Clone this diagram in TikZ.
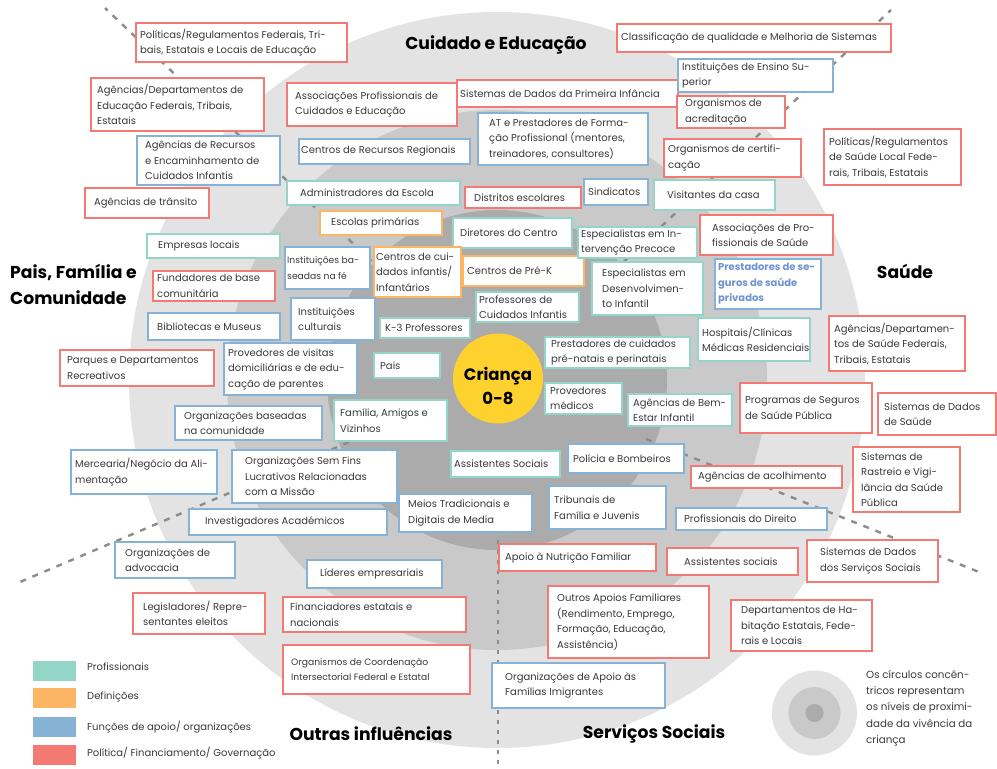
\documentclass[tikz,border=0pt]{standalone}
\usepackage{fontspec}
\setmainfont{Poppins}
\usetikzlibrary{calc}

\definecolor{cTeal}{HTML}{93D5C6}
\definecolor{cOrange}{HTML}{FBB564}
\definecolor{cBlue}{HTML}{86B2D5}
\definecolor{cRed}{HTML}{F27A72}
\definecolor{ringA}{HTML}{E3E3E3}
\definecolor{ringB}{HTML}{C9C9C9}
\definecolor{ringC}{HTML}{ABABAB}
\definecolor{kidYellow}{HTML}{FDD22E}
\definecolor{ink}{HTML}{3A3A3A}
\definecolor{dashgray}{HTML}{8C8C8C}
\definecolor{blueInk}{HTML}{6E93D2}

% box: name, style, x1, y1, x2, y2, text; optional first argument = left padding
\newcommand\bx[8][7]{%
  \node[#3, minimum width={#6-#4}, minimum height={#7-#5}] (#2) at ({(#4+#6)/2},{(#5+#7)/2}) {};
  \node[txt, anchor=west] (#2-t) at ([xshift=#1]#2.west) {#8};
}

\begin{document}
\begin{tikzpicture}[x=1pt, y=-1pt,
  box/.style={draw, fill=white, line width=1.6pt, inner sep=0pt, outer sep=0pt},
  pro/.style={box, draw=cTeal},
  def/.style={box, draw=cOrange},
  sup/.style={box, draw=cBlue},
  pol/.style={box, draw=cRed},
  txt/.style={font=\fontsize{10}{15.5}\selectfont, text=ink, align=left, inner sep=0pt},
  smalltxt/.style={txt, font=\fontsize{9.2}{15.5}\selectfont},
  title/.style={font=\fontsize{17.2}{20}\selectfont\bfseries, text=black, align=left, inner sep=0pt},
  sector/.style={dashgray, line width=2.4pt, dash pattern=on 6pt off 7pt},
  swatch/.style={minimum width=43pt, minimum height=20pt, inner sep=0pt},
]
\useasboundingbox (0,0) rectangle (997,769);
\clip (0,0) rectangle (997,769);

% concentric rings of proximity
\coordinate (ctr) at (497,380);
\fill[ringA] (ctr) circle[radius=368];
\fill[ringB] (ctr) circle[radius=270];
\fill[ringC] (ctr) circle[radius=170];

% sector dividers
\coordinate (tlA) at (381,270); \coordinate (tlB) at (105,8);
\coordinate (trA) at (614,271); \coordinate (trB) at (891,10);
\coordinate (brA) at (646,439); \coordinate (brB) at (984,574);
\coordinate (blA) at (349,442); \coordinate (blB) at (20,582);
\coordinate (bmA) at (498,540); \coordinate (bmB) at (498,769);
\draw[sector] (tlA) -- (tlB);
\draw[sector] (trA) -- (trB);
\draw[sector] (brA) -- (brB);
\draw[sector] (blA) -- (blB);
\draw[sector, line width=1.8pt, dash pattern=on 4pt off 6pt] (bmA) -- (bmB);

% child at the centre
\node[circle, fill=kidYellow, minimum size=90pt, inner sep=0pt] (kid) at (498,378.5) {};
\node[title, align=center, font=\fontsize{16.5}{24}\selectfont\bfseries] (kid-t) at (498,386) {Criança\\0-8};

% ---- Cuidado e Educação / Pais, Família e Comunidade (left and top)
\bx[4]{b1}{pol}{136}{23}{347}{62}{Políticas/Regulamentos Federais, Tri-\\bais, Estatais e Locais de Educação}
\bx[6]{b2}{pol}{91}{78}{264}{131}{Agências/Departamentos de\\Educação Federais, Tribais,\\Estatais}
\bx[8]{b3}{sup}{137}{136}{280}{185}{Agências de Recursos\\e Encaminhamento de\\Cuidados Infantis}
\bx[9]{b4}{pol}{85}{188}{209}{218}{Agências de trânsito}
\bx[11]{b5}{pro}{147}{234}{280}{258}{Empresas locais}
\bx[4]{b6}{pol}{153}{271}{275}{301}{Fundadores de base\\comunitária}
\bx[9]{b7}{sup}{148}{313}{280}{340}{Bibliotecas e Museus}
\bx[7]{b8}{pol}{60}{350}{214}{386}{Parques e Departamentos\\Recreativos}
\bx[9]{b9}{sup}{175}{406}{322}{440}{Organizações baseadas\\na comunidade}
\bx[4]{b10}{sup}{71}{450}{217}{494}{Mercearia/Negócio da Ali-\\mentação}
\bx[13]{b11}{sup}{232}{450}{397}{503}{Organizações Sem Fins\\Lucrativos Relacionadas\\com a Missão}
\bx[16]{b12}{sup}{189}{509}{387}{535}{Investigadores Académicos}
\bx[10]{b13}{sup}{115}{542}{235}{578}{Organizações de\\advocacia}
\bx[10]{b14}{pol}{133}{593}{265}{634}{Legisladores/ Repre-\\sentantes eleitos}
\bx[13]{b15}{sup}{307}{560}{442}{588}{Líderes empresariais}
\bx[7]{b16}{pol}{283}{597}{466}{632}{Financiadores estatais e\\nacionais}
\node[pol, minimum width=187, minimum height=49] (b17) at (376.5,669.5) {};
\node[smalltxt, anchor=west] (b17-t) at ([xshift=8]b17.west) {Organismos de Coordenação\\Intersectorial Federal e Estatal};

\bx[8]{b28}{pol}{287}{83}{457}{126}{Associações Profissionais de\\Cuidados e Educação}
\bx[3]{b30}{pol}{457}{80}{678}{107}{Sistemas de Dados da Primeira Infância}
\bx[2]{b27}{sup}{299}{139}{470}{164}{Centros de Recursos Regionais}
\bx[11]{b31}{sup}{478}{113}{648}{165}{AT e Prestadores de Forma-\\ção Profissional (mentores,\\treinadores, consultores)}
\bx[13]{b18}{pro}{287}{181}{460}{205}{Administradores da Escola}
\bx[9]{b32}{pol}{465}{187}{581}{208}{Distritos escolares}
\bx[4]{b33}{sup}{584}{179}{648}{205}{Sindicatos}
\bx[11]{b19}{def}{320}{211}{442}{235}{Escolas primárias}
\bx[7]{b34}{pro}{453}{218}{572}{248}{Diretores do Centro}
\node[sup, minimum width=85, minimum height=42] (b20) at (327.5,268) {};
\node[smalltxt, anchor=west] (b20-t) at ([xshift=2]b20.west) {Instituições ba-\\seadas na fé};
\bx[2]{b21}{def}{374}{247}{461}{297}{Centros de cui-\\dados infantis/\\Infantários}
\bx[4]{b35}{def}{463}{256}{584}{286}{Centros de Pré-K}
\bx[3]{b36}{pro}{476}{292}{579}{322}{Professores de\\Cuidados Infantis}
\bx[7]{b22}{sup}{291}{298}{375}{340}{Instituições\\culturais}
\bx[5]{b23}{pro}{380}{318}{470}{338}{K-3 Professores}
\bx[4]{b24}{sup}{224}{343}{357}{395}{Provedores de visitas\\domiciliárias e de edu-\\cação de parentes}
\bx[6]{b25}{pro}{374}{353}{440}{378}{Pais}
\bx[6]{b26}{pro}{334}{400}{447}{441}{Família, Amigos e\\Vizinhos}

% ---- Saúde (right and top right)
\bx[4]{b40}{pol}{617}{24}{891}{52}{Classificação de qualidade e Melhoria de Sistemas}
\bx[4]{b41}{sup}{678}{59}{833}{92}{Instituições de Ensino Su-\\perior}
\bx[8]{b42}{pol}{677}{96}{785}{128}{Organismos de\\acreditação}
\bx[4]{b43}{pol}{664}{139}{801}{177}{Organismos de certifi-\\cação}
\bx[5]{b44}{pol}{824}{129}{961}{185}{Políticas/Regulamentos\\de Saúde Local Fede-\\rais, Tribais, Estatais}
\bx[13]{b39}{pro}{654}{180}{775}{210}{Visitantes da casa}
\bx[3]{b37}{pro}{578}{227}{697}{258}{Especialistas em In-\\tervenção Precoce}
\bx[12]{b45}{pol}{700}{215}{833}{255}{Associações de Pro-\\fissionais de Saúde}
\bx[10]{b38}{pro}{592}{262}{703}{315}{Especialistas em\\Desenvolvimen-\\to Infantil}
\bx[3]{b46}{sup}{715}{259}{821}{309}{\color{blueInk}\bfseries Prestadores de se-\\\color{blueInk}\bfseries guros de saúde\\\color{blueInk}\bfseries privados}
\bx[4]{b48}{pro}{698}{318}{810}{361}{Hospitais/Clínicas\\Médicas Residenciais}
\bx[5]{b49}{pol}{829}{316}{965}{371}{Agências/Departamen-\\tos de Saúde Federais,\\Tribais, Estatais}
\bx[6]{b50}{pro}{545}{337}{690}{368}{Prestadores de cuidados\\pré-natais e perinatais}
\bx[5]{b51}{pro}{545}{383}{622}{414}{Provedores\\médicos}
\bx[5]{b52}{pro}{628}{394}{732}{426}{Agências de Bem-\\Estar Infantil}
\bx[5]{b53}{pol}{740}{383}{872}{433}{Programas de Seguros\\de Saúde Pública}
\bx[6]{b54}{pol}{878}{393}{996}{435}{Sistemas de Dados\\de Saúde}
\bx[8]{b55}{pol}{853}{447}{960}{512}{Sistemas de\\Rastreio e Vigi-\\lância da Saúde\\Pública}

% ---- Serviços Sociais / Outras influências (bottom)
\bx[5]{b56}{sup}{568}{444}{684}{473}{Polícia e Bombeiros}
\bx[3]{b58}{pro}{451}{451}{560}{477}{Assistentes Sociais}
\bx[7]{b57}{pol}{691}{466}{842}{488}{Agências de acolhimento}
\bx[5]{b59}{sup}{549}{486}{666}{529}{Tribunais de\\Família e Juvenis}
\bx[9]{b60}{sup}{399}{494}{532}{532}{Meios Tradicionais e\\Digitais de Media}
\bx[8]{b61}{sup}{676}{508}{827}{530}{Profissionais do Direito}
\bx[6]{b62}{pol}{499}{544}{656}{571}{Apoio à Nutrição Familiar}
\bx[17]{b63}{pol}{667}{548}{798}{575}{Assistentes sociais}
\bx[13]{b64}{pol}{807}{540}{938}{582}{Sistemas de Dados\\dos Serviços Sociais}
\bx[9]{b65}{pol}{548}{586}{709}{658}{Outros Apoios Familiares\\(Rendimento, Emprego,\\Formação, Educação,\\Assistência)}
\bx[10]{b66}{pol}{731}{600}{872}{651}{Departamentos de Ha-\\bitação Estatais, Fede-\\rais e Locais}
\bx[13]{b67}{sup}{492}{663}{665}{708}{Organizações de Apoio às\\Famílias Imigrantes}

% sector titles
\node[title, anchor=center] (tCare) at (496,45) {Cuidado e Educação};
\node[title, anchor=center] (tHealth) at (905,271) {Saúde};
\node[title, anchor=west, font=\fontsize{17.2}{26}\selectfont\bfseries] (tFamily) at (10,284) {Pais, Família e\\Comunidade};
\node[title, anchor=center] (tOther) at (371,734) {Outras influências};
\node[title, anchor=center] (tSocial) at (654,734) {Serviços Sociais};

% colour key
\node[swatch, fill=cTeal] (k1) at (54.5,671) {};
\node[swatch, fill=cOrange] (k2) at (54.5,698) {};
\node[swatch, fill=cBlue] (k3) at (54.5,727) {};
\node[swatch, fill=cRed] (k4) at (54.5,755) {};
\node[txt, anchor=west] (k1-t) at (87,667) {Profissionais};
\node[txt, anchor=west] (k2-t) at (87,697) {Definições};
\node[txt, anchor=west] (k3-t) at (87,727) {Funções de apoio/ organizações};
\node[txt, anchor=west] (k4-t) at (87,753) {Política/ Financiamento/ Governação};

% ring key
\coordinate (rk) at (814.5,713);
\fill[ringA] (rk) circle[radius=42.5];
\fill[ringB] (rk) circle[radius=26];
\fill[ringC] (rk) circle[radius=9];
\node[txt, anchor=north west, font=\fontsize{10.3}{16.3}\selectfont] (rk-t) at (866,670) {Os círculos concên-\\tricos representam\\os níveis de proximi-\\dade da vivência da\\criança};
\end{tikzpicture}
\end{document}
